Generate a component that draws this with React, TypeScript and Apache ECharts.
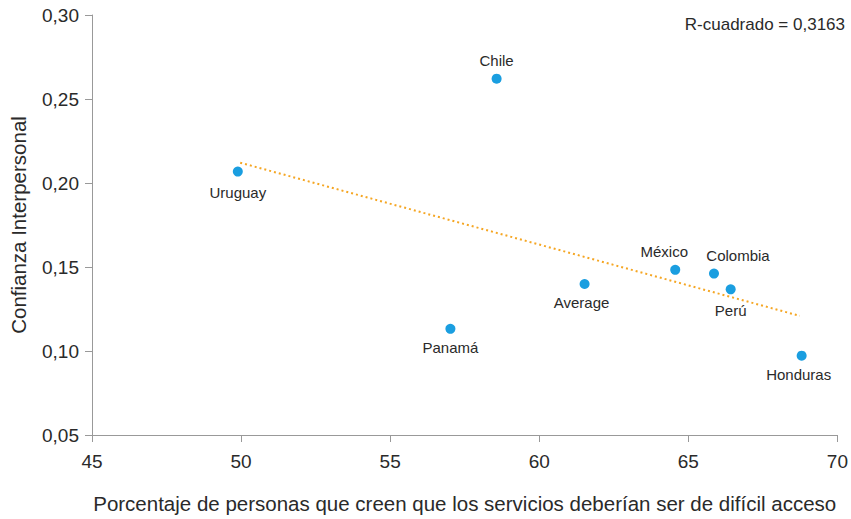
import React, { useEffect, useRef } from "react";
import * as echarts from "echarts";

const countries = ["Chile", "Uruguay", "Average", "México", "Colombia", "Perú", "Panamá", "Honduras"];
const xValues = [58.57, 49.89, 61.52, 64.56, 65.86, 66.42, 57.02, 68.8];
const yValues = [0.2621, 0.2068, 0.1399, 0.1483, 0.1461, 0.1367, 0.1132, 0.0972];
const labelPos = ["top", "bottom", "bottom", "top", "top", "bottom", "bottom", "bottom"];
const labelOffsetX = [0, 0, -3, -11, 24, 0, 0, -3];
const labelOffsetY = [0, 2, 0, 0, 0, 3, 0, 0];
const trendX = [49.97, 68.74];
const trendY = [0.2121, 0.1209];
const rSquared = "R-cuadrado = 0,3163";

const FONT = "'Liberation Sans', Arial, sans-serif";
const TEXT = "#2a2a2a";

export default function App() {
  const ref = useRef<HTMLDivElement>(null);
  useEffect(() => {
    if (!ref.current) return;
    const chart = echarts.init(ref.current, null, { renderer: "svg" });
    const pts = countries.map((c, i) => ({
      value: [xValues[i], yValues[i]],
      name: c,
      label: {
        show: true,
        position: labelPos[i],
        distance: 6,
        offset: [labelOffsetX[i], labelOffsetY[i]],
        formatter: c,
        color: TEXT,
        fontSize: 15,
        fontFamily: FONT,
      },
    }));
    chart.setOption({
      animation: false,
      backgroundColor: "#fff",
      grid: { left: 90, right: 11, top: 15, bottom: 82, containLabel: false },
      xAxis: {
        type: "value",
        min: 45,
        max: 70,
        interval: 5,
        name: "Porcentaje de personas que creen que los servicios deberían ser de difícil acceso",
        nameLocation: "middle",
        nameGap: 58,
        nameTextStyle: { fontSize: 20.5, color: TEXT, fontFamily: FONT },
        axisLine: { show: true, lineStyle: { color: "#999", width: 1 } },
        axisTick: { show: true, length: 7, lineStyle: { color: "#999" } },
        axisLabel: { fontSize: 19, color: TEXT, fontFamily: FONT, margin: 17 },
        splitLine: { show: false },
      },
      yAxis: {
        type: "value",
        min: 0.05,
        max: 0.3,
        interval: 0.05,
        name: "Confianza Interpersonal",
        nameLocation: "middle",
        nameGap: 63,
        nameRotate: 90,
        nameTextStyle: { fontSize: 20.5, color: TEXT, fontFamily: FONT },
        axisLine: { show: true, lineStyle: { color: "#999", width: 1 } },
        axisTick: { show: true, length: 7, lineStyle: { color: "#999" } },
        axisLabel: {
          fontSize: 19,
          color: TEXT,
          fontFamily: FONT,
          margin: 13,
          formatter: (v: number) => v.toFixed(2).replace(".", ","),
        },
        splitLine: { show: false },
      },
      series: [
        {
          type: "line",
          data: trendX.map((x, i) => [x, trendY[i]]),
          symbol: "none",
          lineStyle: { color: "#F5A623", width: 2, type: [2, 3] },
          silent: true,
          z: 1,
        },
        {
          type: "scatter",
          data: pts,
          symbolSize: 10,
          itemStyle: { color: "#1A9EE0", opacity: 1 },
          z: 2,
        },
      ],
      graphic: [
        {
          type: "text",
          right: 6,
          top: 16,
          style: { text: rSquared, fontSize: 17, fill: TEXT, fontFamily: FONT },
        },
      ],
    });
    return () => chart.dispose();
  }, []);
  return (
    <div
      ref={ref}
      style={{ position: "absolute", left: 0, top: 0, width: 851, height: 519 }}
    />
  );
}
